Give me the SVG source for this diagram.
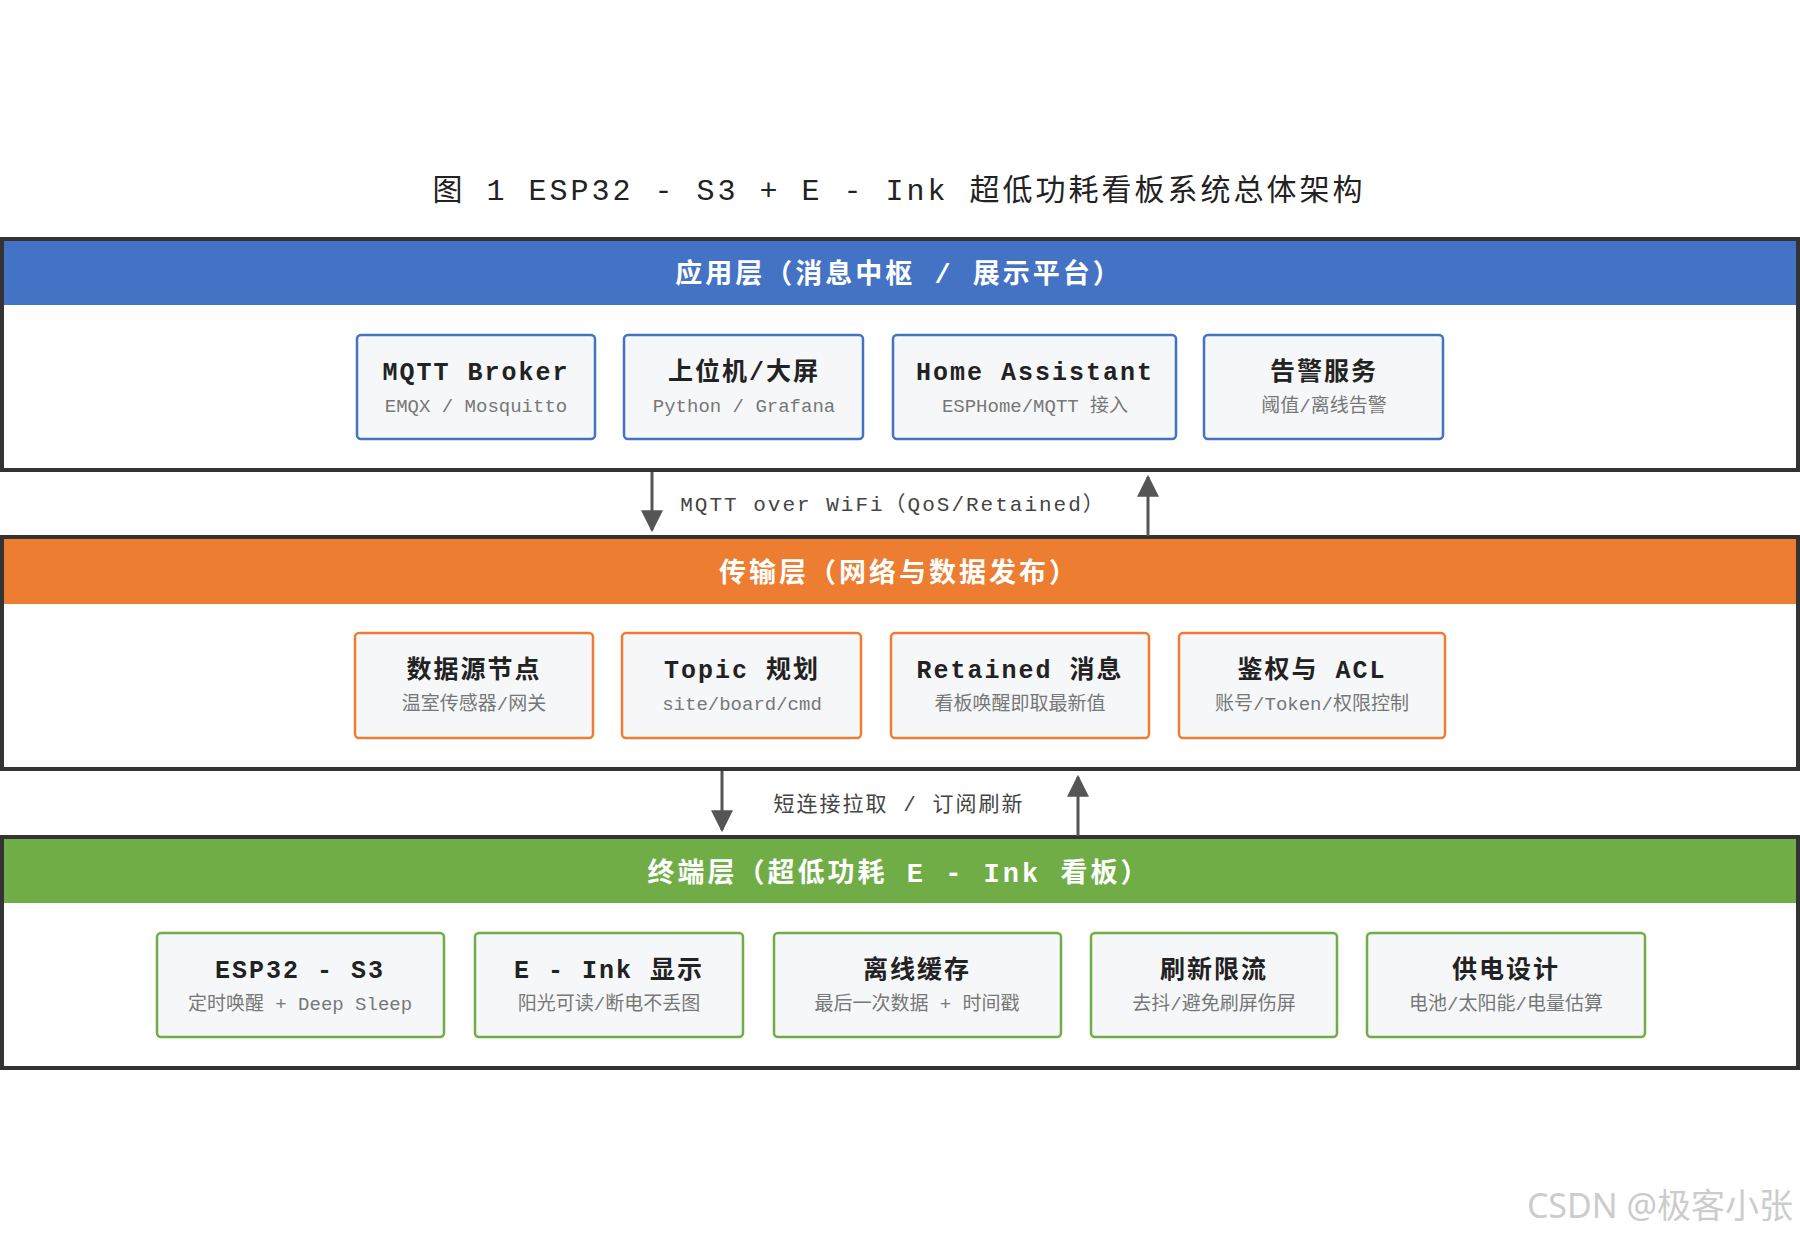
<svg xmlns="http://www.w3.org/2000/svg" width="1800" height="1240" viewBox="0 0 1800 1240">
<defs>
<marker id="ah" viewBox="0 0 10 10" refX="9" refY="5" markerWidth="7" markerHeight="7" markerUnits="userSpaceOnUse" orient="auto"><path d="M0,0 L10,5 L0,10 z" fill="#555"/></marker>
<marker id="ah2" viewBox="0 0 10 10" refX="9" refY="5" markerWidth="22" markerHeight="22" markerUnits="userSpaceOnUse" orient="auto"><path d="M0,0 L10,5 L0,10 z" fill="#555"/></marker>
<style>
text{font-family:"Liberation Mono","Noto Sans CJK SC",monospace;text-anchor:middle}
.ttl{font-size:30px;letter-spacing:3px;fill:#222}
.hd{font-size:27px;font-weight:bold;fill:#fff;letter-spacing:3px}
.bt{font-size:25px;fill:#222;letter-spacing:2px;font-weight:600}
.bs{font-size:19px;fill:#777}
.lb{font-size:21px;fill:#444;letter-spacing:2px}
.frame{fill:#fff;stroke:#333;stroke-width:4}
.box{fill:#f6f7f9;stroke-width:2.5}
.b1{stroke:#4472C4}.b2{stroke:#ED7D31}.b3{stroke:#70AD47}
.ar{stroke:#555;stroke-width:3;marker-end:url(#ah2)}
</style>
</defs>
<rect width="1800" height="1240" fill="#fff"/>
<text class="ttl" x="899" y="200">图 1 ESP32 - S3 + E - Ink 超低功耗看板系统总体架构</text>
<g id="layer-app">
<rect class="frame" x="2" y="239" width="1796" height="231"/>
<rect x="4" y="241" width="1792" height="64" fill="#4472C4"/>
<text class="hd" x="899" y="283">应用层（消息中枢 / 展示平台）</text>
</g>
<g id="n-mqtt"><rect class="box b1" x="357" y="335" width="238" height="104" rx="4"/><text class="bt" x="476" y="380">MQTT Broker</text><text class="bs" x="476" y="412">EMQX / Mosquitto</text></g>
<g id="n-host"><rect class="box b1" x="624" y="335" width="239" height="104" rx="4"/><text class="bt" x="744" y="380">上位机/大屏</text><text class="bs" x="744" y="412">Python / Grafana</text></g>
<g id="n-ha"><rect class="box b1" x="893" y="335" width="283" height="104" rx="4"/><text class="bt" x="1035" y="380">Home Assistant</text><text class="bs" x="1035" y="412">ESPHome/MQTT 接入</text></g>
<g id="n-alarm"><rect class="box b1" x="1204" y="335" width="239" height="104" rx="4"/><text class="bt" x="1324" y="380">告警服务</text><text class="bs" x="1324" y="412">阈值/离线告警</text></g>
<g id="layer-trans">
<rect class="frame" x="2" y="537" width="1796" height="232"/>
<rect x="4" y="539" width="1792" height="65" fill="#ED7D31"/>
<text class="hd" x="899" y="582">传输层（网络与数据发布）</text>
</g>
<g id="n-src"><rect class="box b2" x="355" y="633" width="238" height="105" rx="4"/><text class="bt" x="474" y="678">数据源节点</text><text class="bs" x="474" y="710">温室传感器/网关</text></g>
<g id="n-topic"><rect class="box b2" x="622" y="633" width="239" height="105" rx="4"/><text class="bt" x="742" y="678">Topic 规划</text><text class="bs" x="742" y="710">site/board/cmd</text></g>
<g id="n-ret"><rect class="box b2" x="891" y="633" width="258" height="105" rx="4"/><text class="bt" x="1020" y="678">Retained 消息</text><text class="bs" x="1020" y="710">看板唤醒即取最新值</text></g>
<g id="n-acl"><rect class="box b2" x="1179" y="633" width="266" height="105" rx="4"/><text class="bt" x="1312" y="678">鉴权与 ACL</text><text class="bs" x="1312" y="710">账号/Token/权限控制</text></g>
<g id="layer-term">
<rect class="frame" x="2" y="837" width="1796" height="231"/>
<rect x="4" y="839" width="1792" height="64" fill="#70AD47"/>
<text class="hd" x="899" y="882">终端层（超低功耗 E - Ink 看板）</text>
</g>
<g id="n-esp"><rect class="box b3" x="157" y="933" width="287" height="104" rx="4"/><text class="bt" x="300" y="978">ESP32 - S3</text><text class="bs" x="300" y="1010">定时唤醒 + Deep Sleep</text></g>
<g id="n-eink"><rect class="box b3" x="475" y="933" width="268" height="104" rx="4"/><text class="bt" x="609" y="978">E - Ink 显示</text><text class="bs" x="609" y="1010">阳光可读/断电不丢图</text></g>
<g id="n-cache"><rect class="box b3" x="774" y="933" width="287" height="104" rx="4"/><text class="bt" x="917" y="978">离线缓存</text><text class="bs" x="917" y="1010">最后一次数据 + 时间戳</text></g>
<g id="n-limit"><rect class="box b3" x="1091" y="933" width="246" height="104" rx="4"/><text class="bt" x="1214" y="978">刷新限流</text><text class="bs" x="1214" y="1010">去抖/避免刷屏伤屏</text></g>
<g id="n-power"><rect class="box b3" x="1367" y="933" width="278" height="104" rx="4"/><text class="bt" x="1506" y="978">供电设计</text><text class="bs" x="1506" y="1010">电池/太阳能/电量估算</text></g>
<g id="connectors">
<line class="ar" x1="652" y1="472" x2="652" y2="530"/>
<line class="ar" x1="1148" y1="536" x2="1148" y2="477"/>
<text class="lb" x="893" y="511">MQTT over WiFi（QoS/Retained）</text>
<line class="ar" x1="722" y1="771" x2="722" y2="830"/>
<line class="ar" x1="1078" y1="836" x2="1078" y2="777"/>
<text class="lb" x="899" y="811">短连接拉取 / 订阅刷新</text>
</g>
<text x="1660" y="1218" style="font-family:'Noto Sans','Noto Sans CJK SC',sans-serif;font-size:34px;fill:#ccc">CSDN @极客小张</text>
</svg>
